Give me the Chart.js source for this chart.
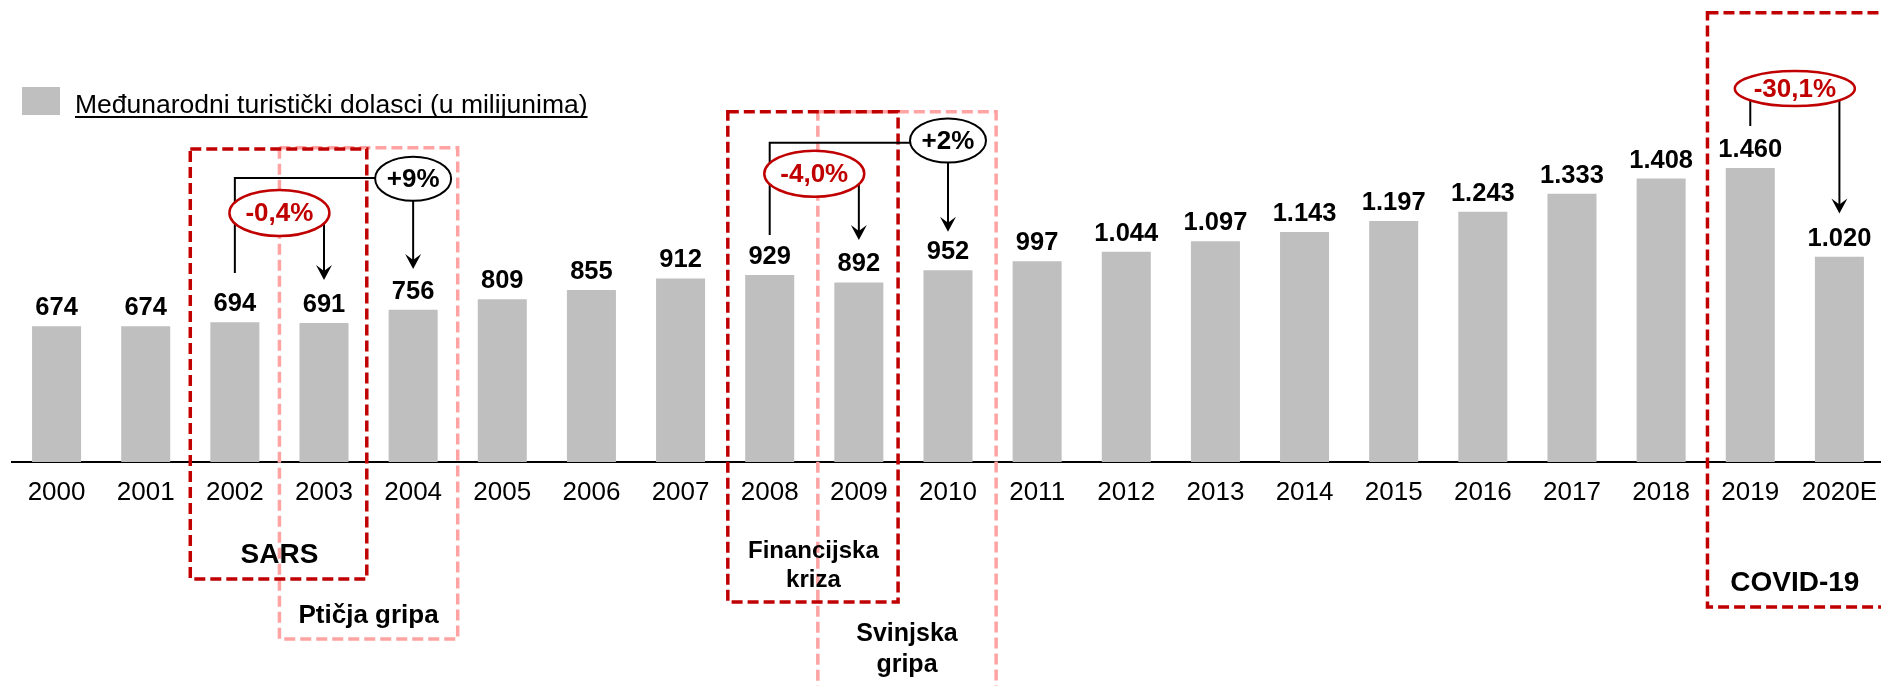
<!DOCTYPE html>
<html>
<head>
<meta charset="utf-8">
<script src="https://cdn.jsdelivr.net/npm/chart.js@4/dist/chart.umd.min.js"></script>
<style>
html, body { margin: 0; padding: 0; background: #fff; overflow: hidden; }
#wrap { width: 1884px; height: 686px; }
</style>
</head>
<body>
<div id="wrap"><canvas id="chart" width="1884" height="686"></canvas></div>
<script>
const years = ['2000', '2001', '2002', '2003', '2004', '2005', '2006', '2007', '2008', '2009', '2010',
  '2011', '2012', '2013', '2014', '2015', '2016', '2017', '2018', '2019', '2020E']
const arrivals = [674, 674, 694, 691, 756, 809, 855, 912, 929, 892, 952,
  997, 1044, 1097, 1143, 1197, 1243, 1333, 1408, 1460, 1020]
const legendLabel = 'Međunarodni turistički dolasci (u milijunima)'

const FONT = '"Liberation Sans", Arial, sans-serif'
const DARK_RED = '#C00000'
const PINK = '#FFA3A3'
const BAR_GREY = '#BFBFBF'

// event boxes: x in category positions, top in millions, bottom / text in px below the axis
const events = [
  { lines: ['Ptičja gripa'], from: 2.5, to: 4.5, mid: 3.5, top: 1561, bottom: 177, textY: [161], size: 26, color: PINK },
  { lines: ['Svinjska', 'gripa'], from: 8.54, to: 10.54, mid: 9.54, top: 1740, bottom: 260, textY: [179, 210], size: 25, color: PINK },
  { lines: ['SARS'], from: 1.5, to: 3.48, mid: 2.5, top: 1555, bottom: 117, textY: [101], size: 28, color: DARK_RED },
  { lines: ['Financijska', 'kriza'], from: 7.53, to: 9.44, mid: 8.49, top: 1740, bottom: 140, textY: [96, 125], size: 24, color: DARK_RED },
  { lines: ['COVID-19'], from: 18.52, to: 21.5, mid: 19.5, top: 2232, bottom: 145, textY: [129], size: 28, color: DARK_RED }
]

// growth call-outs: ellipse at (cx, cy), optional elbow line from a bar, arrow down to a bar
const changes = [
  { text: '+9%', color: '#000', cx: 4, cy: 1407, rx: 38, ry: 22, elbowFrom: 2, elbowStart: 939, elbowY: 1411, arrowTo: 4, arrowTip: 959 },
  { text: '-0,4%', color: DARK_RED, cx: 2.5, cy: 1237, rx: 50, ry: 23, arrowTo: 3, arrowTip: 904 },
  { text: '+2%', color: '#000', cx: 10, cy: 1597, rx: 38, ry: 22, elbowFrom: 8, elbowStart: 1128, elbowY: 1586, arrowTo: 10, arrowTip: 1144 },
  { text: '-4,0%', color: DARK_RED, cx: 8.5, cy: 1432, rx: 50, ry: 23, arrowTo: 9, arrowTip: 1103 },
  { text: '-30,1%', color: DARK_RED, cx: 19.5, cy: 1855, rx: 60, ry: 17.5, stubFrom: 19, stubEnd: 1669, arrowTo: 20, arrowTip: 1235 }
]

const fmt = n => String(n).replace(/\B(?=(\d{3})+(?!\d))/g, '.')

function arrowHead(ctx, x, y) {
  ctx.beginPath()
  ctx.moveTo(x, y)
  ctx.lineTo(x - 8, y - 15)
  ctx.lineTo(x, y - 9)
  ctx.lineTo(x + 8, y - 15)
  ctx.closePath()
  ctx.fill()
}

const valueLabels = {
  id: 'valueLabels',
  afterDatasetsDraw(chart) {
    const ctx = chart.ctx
    const meta = chart.getDatasetMeta(0)
    ctx.save()
    ctx.font = 'bold 25.5px ' + FONT
    ctx.fillStyle = '#000'
    ctx.textAlign = 'center'
    ctx.textBaseline = 'alphabetic'
    meta.data.forEach((bar, i) => {
      ctx.fillText(fmt(arrivals[i]), bar.x, bar.y - 11)
    })
    ctx.restore()
  }
}

const legendPlugin = {
  id: 'legendPlugin',
  afterDraw(chart) {
    const ctx = chart.ctx
    ctx.save()
    ctx.fillStyle = BAR_GREY
    ctx.fillRect(22, 87, 38, 28)
    ctx.font = '26.5px ' + FONT
    ctx.fillStyle = '#000'
    ctx.textBaseline = 'alphabetic'
    ctx.fillText(legendLabel, 75, 113)
    const w = ctx.measureText(legendLabel).width
    ctx.fillRect(75, 116, w, 2)
    ctx.restore()
  }
}

const annotations = {
  id: 'annotations',
  afterDraw(chart) {
    const ctx = chart.ctx
    const x = chart.scales.x
    const y = chart.scales.y
    const axisY = chart.chartArea.bottom
    ctx.save()

    events.forEach(ev => {
      const l = x.getPixelForValue(ev.from)
      const r = x.getPixelForValue(ev.to)
      const t = y.getPixelForValue(ev.top)
      const b = axisY + ev.bottom
      ctx.strokeStyle = ev.color
      ctx.lineWidth = 3.5
      ctx.setLineDash([11, 5])
      ctx.strokeRect(l, t, r - l, b - t)
      ctx.setLineDash([])
      ctx.fillStyle = '#000'
      ctx.font = 'bold ' + ev.size + 'px ' + FONT
      ctx.textAlign = 'center'
      ctx.textBaseline = 'alphabetic'
      const mx = x.getPixelForValue(ev.mid)
      ev.lines.forEach((line, i) => ctx.fillText(line, mx, axisY + ev.textY[i]))
    })

    changes.forEach(c => {
      const cx = x.getPixelForValue(c.cx)
      const cy = y.getPixelForValue(c.cy)
      ctx.strokeStyle = '#000'
      ctx.fillStyle = '#000'
      ctx.lineWidth = 2
      if (c.elbowFrom !== undefined) {
        const ex = x.getPixelForValue(c.elbowFrom)
        const ey = y.getPixelForValue(c.elbowY)
        ctx.beginPath()
        ctx.moveTo(ex, y.getPixelForValue(c.elbowStart))
        ctx.lineTo(ex, ey)
        ctx.lineTo(cx, ey)
        ctx.stroke()
      }
      if (c.stubFrom !== undefined) {
        const sx = x.getPixelForValue(c.stubFrom)
        ctx.beginPath()
        ctx.moveTo(sx, cy)
        ctx.lineTo(sx, y.getPixelForValue(c.stubEnd))
        ctx.stroke()
      }
      const ax = x.getPixelForValue(c.arrowTo)
      const tip = y.getPixelForValue(c.arrowTip)
      ctx.beginPath()
      ctx.moveTo(ax, cy)
      ctx.lineTo(ax, tip - 6)
      ctx.stroke()
      arrowHead(ctx, ax, tip)
    })

    changes.forEach(c => {
      const cx = x.getPixelForValue(c.cx)
      const cy = y.getPixelForValue(c.cy)
      ctx.beginPath()
      ctx.ellipse(cx, cy, c.rx, c.ry, 0, 0, Math.PI * 2)
      ctx.fillStyle = '#fff'
      ctx.fill()
      ctx.lineWidth = c.color === '#000' ? 2 : 2.5
      ctx.strokeStyle = c.color
      ctx.stroke()
      ctx.fillStyle = c.color
      ctx.font = 'bold 26px ' + FONT
      ctx.textAlign = 'center'
      ctx.textBaseline = 'middle'
      ctx.fillText(c.text, cx, cy + 1)
    })

    ctx.restore()
  }
}

new Chart(document.getElementById('chart'), {
  type: 'bar',
  data: {
    labels: years,
    datasets: [{
      label: legendLabel,
      data: arrivals,
      backgroundColor: BAR_GREY,
      barPercentage: 0.55,
      categoryPercentage: 1
    }]
  },
  options: {
    responsive: false,
    animation: false,
    layout: { padding: { left: 12, right: 0, top: 0, bottom: 0 } },
    plugins: { legend: { display: false }, tooltip: { enabled: false } },
    scales: {
      x: {
        grid: { display: false },
        border: { display: true, color: '#000', width: 2 },
        ticks: { color: '#000', font: { family: FONT, size: 26 }, padding: 7, maxRotation: 0, autoSkip: false },
        afterFit(scale) { scale.height = 224 }
      },
      y: { display: false, min: 0, max: 2295 }
    }
  },
  plugins: [valueLabels, legendPlugin, annotations]
})
</script>
</body>
</html>
